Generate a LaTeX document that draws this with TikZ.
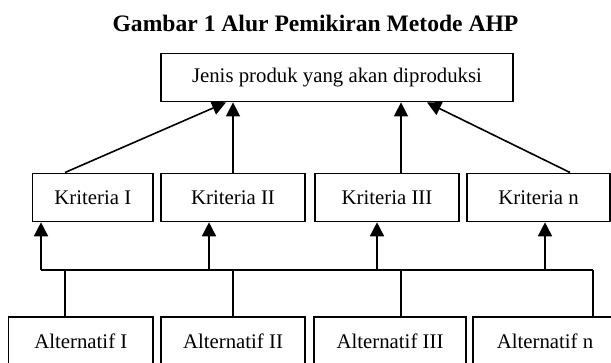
\documentclass[tikz,border=0pt]{standalone}
\usepackage{fontspec}
\setmainfont{Liberation Serif}
\usetikzlibrary{arrows.meta}

\begin{document}
\begin{tikzpicture}[x=1pt,y=-1pt,
  box/.style={draw, line width=1.5pt, inner sep=0pt, minimum height=48.3pt,
    font=\fontsize{20.8}{24}\selectfont},
  link/.style={line width=1.6pt},
  arrow/.style={line width=1.6pt, -{Triangle[length=14pt,width=14pt]}},
  title/.style={font=\fontsize{23.6}{28}\selectfont\bfseries, inner sep=0pt}
]
% page frame; the outermost boxes run past the edge
\clip (0,0) rectangle (611,362);

% heading
\node[title, anchor=base] (judul) at (315.5,31) {Gambar 1 Alur Pemikiran Metode AHP};

% goal
\node[box, minimum width=352pt] (tujuan) at (337,77.5) {Jenis produk yang akan diproduksi};

% criteria
\node[box, minimum width=120.3pt] (k1) at (92.85,197.4) {Kriteria I};
\node[box, minimum width=144pt]   (k2) at (233,197.4)   {Kriteria II};
\node[box, minimum width=144pt]   (k3) at (387,197.4)   {Kriteria III};
\node[box, minimum width=143pt]   (kn) at (538.5,197.4) {Kriteria n};

% alternatives
\node[box, minimum width=144.4pt] (a1) at (80.8,341.2) {Alternatif I};
\node[box, minimum width=144pt]   (a2) at (233,341.2)  {Alternatif II};
\node[box, minimum width=152pt]   (a3) at (390,341.2)  {Alternatif III};
\node[box, minimum width=144pt]   (an) at (545,341.2)  {Alternatif n};

% column positions of the connectors
\coordinate (x1) at (65,0);
\coordinate (x2) at (233,0);
\coordinate (x3) at (401,0);
\coordinate (x4) at (593,0);
\coordinate (u1) at (41,0);
\coordinate (u2) at (209,0);
\coordinate (u3) at (377,0);
\coordinate (u4) at (545,0);
\coordinate (t1) at (226,0);
\coordinate (t4) at (427,0);
\coordinate (kr) at (570,0);
\coordinate (bus) at (0,270);

% criteria -> goal
\draw[arrow] (k1.north -| x1) -- (tujuan.south -| t1);
\draw[arrow] (k2.north -| x2) -- (tujuan.south -| x2);
\draw[arrow] (k3.north -| x3) -- (tujuan.south -| x3);
\draw[arrow] (kn.north -| kr) -- (tujuan.south -| t4);

% common bus between alternatives and criteria
\draw[link] (bus -| u1) -- (bus -| x4);

% bus -> criteria
\draw[arrow] (bus -| u1) -- (k1.south -| u1);
\draw[arrow] (bus -| u2) -- (k2.south -| u2);
\draw[arrow] (bus -| u3) -- (k3.south -| u3);
\draw[arrow] (bus -| u4) -- (kn.south -| u4);

% alternatives -> bus
\draw[link] (a1.north -| x1) -- (bus -| x1);
\draw[link] (a2.north -| x2) -- (bus -| x2);
\draw[link] (a3.north -| x3) -- (bus -| x3);
\draw[link] (an.north -| x4) -- (bus -| x4);
\end{tikzpicture}
\end{document}
